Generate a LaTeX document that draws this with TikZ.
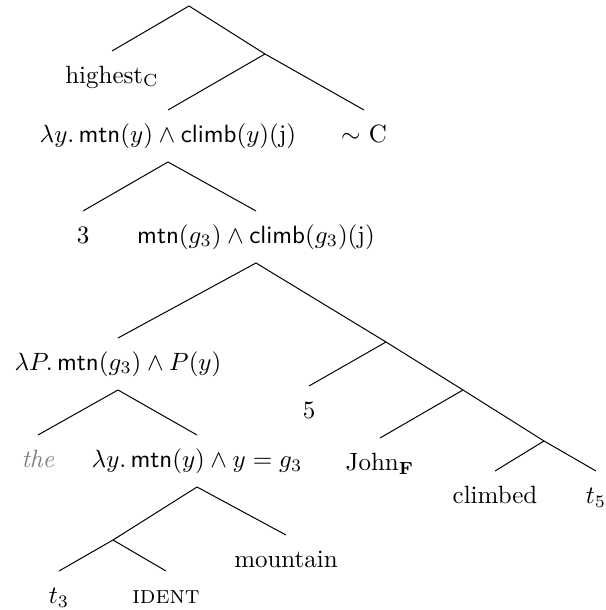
\documentclass[tikz,border=0pt]{standalone}
\usepackage{amsmath}
\usepackage{amssymb}
\usepackage{xcolor}
\usepackage{tikz}
\usetikzlibrary{positioning}

\begin{document}
\begin{tikzpicture}[x=0.4pt, y=-0.4pt,
		tnode/.style={inner sep=0pt, text height=7pt, text depth=2pt, minimum height=20.4pt}]
			\useasboundingbox (0,0) rectangle (605,610);

			% Branching points
			\coordinate (root) at (189,6);
			\coordinate (n1) at (265,54);
			\coordinate (n4) at (386,342);
			\coordinate (n5) at (463,390);
			\coordinate (n6) at (544,441);
			\coordinate (n9) at (113,540);

			% Labels
			\node[tnode] (hC) at (112,77) {highest$_{\mathrm{C}}$};
			\node[tnode] (lam1) at (168,136) {$\lambda y.\,\textsf{mtn}(y) \wedge \textsf{climb}(y)(\mathrm{j})$};
			\node[tnode] (simC) at (364,136) {$\sim$ C};
			\node[tnode] (three) at (83,237) {3};
			\node[tnode] (body) at (256,237) {$\textsf{mtn}(g_3) \wedge \textsf{climb}(g_3)(\mathrm{j})$};
			\node[tnode] (lamP) at (118,364) {$\lambda P.\,\textsf{mtn}(g_3) \wedge P(y)$};
			\node[tnode] (five) at (309,412) {5};
			\node[tnode, gray] (the) at (38,461) {\textit{the}};
			\node[tnode] (lam2) at (197,461) {$\lambda y.\,\textsf{mtn}(y) \wedge y = g_3$};
			\node[tnode] (john) at (380,464) {John$_{\mathbf{F}}$};
			\node[tnode] (clmb) at (495,497) {climbed};
			\node[tnode] (t5) at (596,497) {$t_5$};
			\node[tnode] (mtn) at (286,561) {mountain};
			\node[tnode] (t3) at (59,597) {$t_3$};
			\node[tnode] (ident) at (166,597) {\textsc{ident}};

			% Branches
			\draw (root) -- (hC.north);
			\draw (root) -- (n1) -- (simC.north);
			\draw (n1) -- (lam1.north);
			\draw (lam1.south) -- (three.north);
			\draw (lam1.south) -- (body.north);
			\draw (body.south) -- (lamP.north);
			\draw (body.south) -- (n4) -- (n5) -- (n6) -- (t5.north);
			\draw (n4) -- (five.north);
			\draw (n5) -- (john.north);
			\draw (n6) -- (clmb.north);
			\draw (lamP.south) -- (the.north);
			\draw (lamP.south) -- (lam2.north);
			\draw (lam2.south) -- (n9) -- (t3.north);
			\draw (n9) -- (ident.north);
			\draw (lam2.south) -- (mtn.north);

		\end{tikzpicture}
\end{document}
